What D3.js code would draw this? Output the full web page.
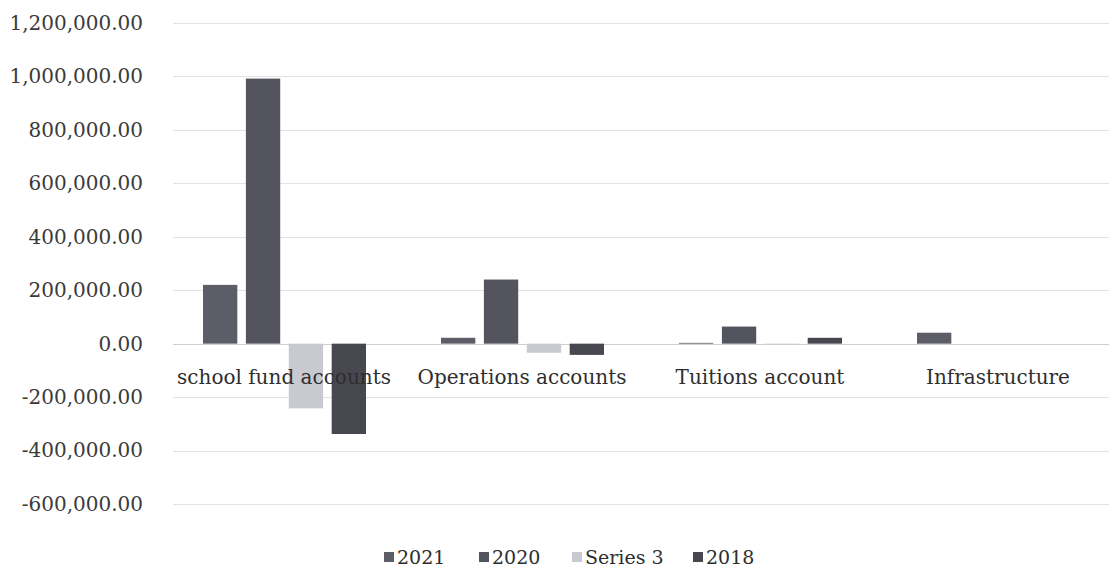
<!DOCTYPE html>
<html>
<head>
<meta charset="utf-8">
<script src="https://cdn.jsdelivr.net/npm/d3@7"></script>
<style>
  html, body { margin: 0; padding: 0; background: #fff; }
  svg { display: block; }
</style>
</head>
<body>
<svg id="chart" width="1109" height="569"></svg>
<script>
const categories = ["school fund accounts", "Operations accounts", "Tuitions account", "Infrastructure"];
const seriesNames = ["2021", "2020", "Series 3", "2018"];
const values2021 = [220000, 22000, 3000, 41000];
const values2020 = [992000, 240000, 64000, 0];
const valuesSeries3 = [-242000, -34000, -2000, 0];
const values2018 = [-338000, -42000, 22000, 0];
const yTicks = [-600000, -400000, -200000, 0, 200000, 400000, 600000, 800000, 1000000, 1200000];
const seriesColors = ["#5d5d68", "#54545f", "#c9c9d1", "#474750"];

const seriesValues = [values2021, values2020, valuesSeries3, values2018];
const data = categories.map((c, i) => ({
  category: c,
  vals: seriesNames.map((s, j) => ({ series: s, idx: j, value: seriesValues[j][i] }))
}));

const svg = d3.select("#chart");
const fontFamily = "'DejaVu Serif', 'Liberation Serif', serif";

const plotLeft = 165, plotRight = 1117;
const y = d3.scaleLinear().domain([-600000, 1200000]).range([504, 23]);
const x0 = d3.scaleBand().domain(categories).range([plotLeft, plotRight]).padding(0);
const x1 = d3.scaleBand().domain(seriesNames).range([38, 201]).paddingInner(0.2).paddingOuter(0);

const locale = d3.formatLocale({ decimal: ".", thousands: ",", grouping: [3], currency: ["", ""], minus: "-" });
const fmt = locale.format(",.2f");

// gridlines
svg.append("g")
  .selectAll("line")
  .data(yTicks)
  .join("line")
  .attr("x1", plotLeft + 8)
  .attr("x2", 1109)
  .attr("y1", d => Math.round(y(d)) + 0.5)
  .attr("y2", d => Math.round(y(d)) + 0.5)
  .attr("stroke", d => d === 0 ? "#cfcfcf" : "#e2e2e2")
  .attr("stroke-width", 1);

// y axis labels
const yAxis = d3.axisLeft(y).tickValues(yTicks).tickFormat(fmt).tickSize(0).tickPadding(0);
const yg = svg.append("g").attr("transform", "translate(143,0)").call(yAxis);
yg.select(".domain").remove();
yg.selectAll("text")
  .attr("font-family", fontFamily)
  .attr("font-size", 20)
  .attr("fill", "#3a3a3a");

// bars
const groups = svg.append("g")
  .selectAll("g")
  .data(data)
  .join("g")
  .attr("transform", d => `translate(${x0(d.category)},0)`);

groups.selectAll("rect")
  .data(d => d.vals)
  .join("rect")
  .attr("x", d => x1(d.series))
  .attr("width", x1.bandwidth())
  .attr("y", d => y(Math.max(0, d.value)))
  .attr("height", d => Math.abs(y(d.value) - y(0)))
  .attr("fill", d => seriesColors[d.idx]);

// category labels
svg.append("g")
  .selectAll("text")
  .data(categories)
  .join("text")
  .attr("x", d => x0(d) + x0.bandwidth() / 2)
  .attr("y", 384)
  .attr("text-anchor", "middle")
  .attr("font-family", fontFamily)
  .attr("font-size", 20)
  .attr("fill", "#2e2e2e")
  .text(d => d);

// legend
const legendX = [384, 479, 572, 693];
const leg = svg.append("g")
  .selectAll("g")
  .data(seriesNames)
  .join("g")
  .attr("transform", (d, i) => `translate(${legendX[i]},557)`);
leg.append("rect")
  .attr("x", 0).attr("y", -5)
  .attr("width", 10).attr("height", 10)
  .attr("fill", (d, i) => seriesColors[i]);
leg.append("text")
  .attr("x", 13)
  .attr("y", 0)
  .attr("dy", "0.35em")
  .attr("font-family", fontFamily)
  .attr("font-size", 19)
  .attr("fill", "#2e2e2e")
  .text(d => d);
</script>
</body>
</html>
